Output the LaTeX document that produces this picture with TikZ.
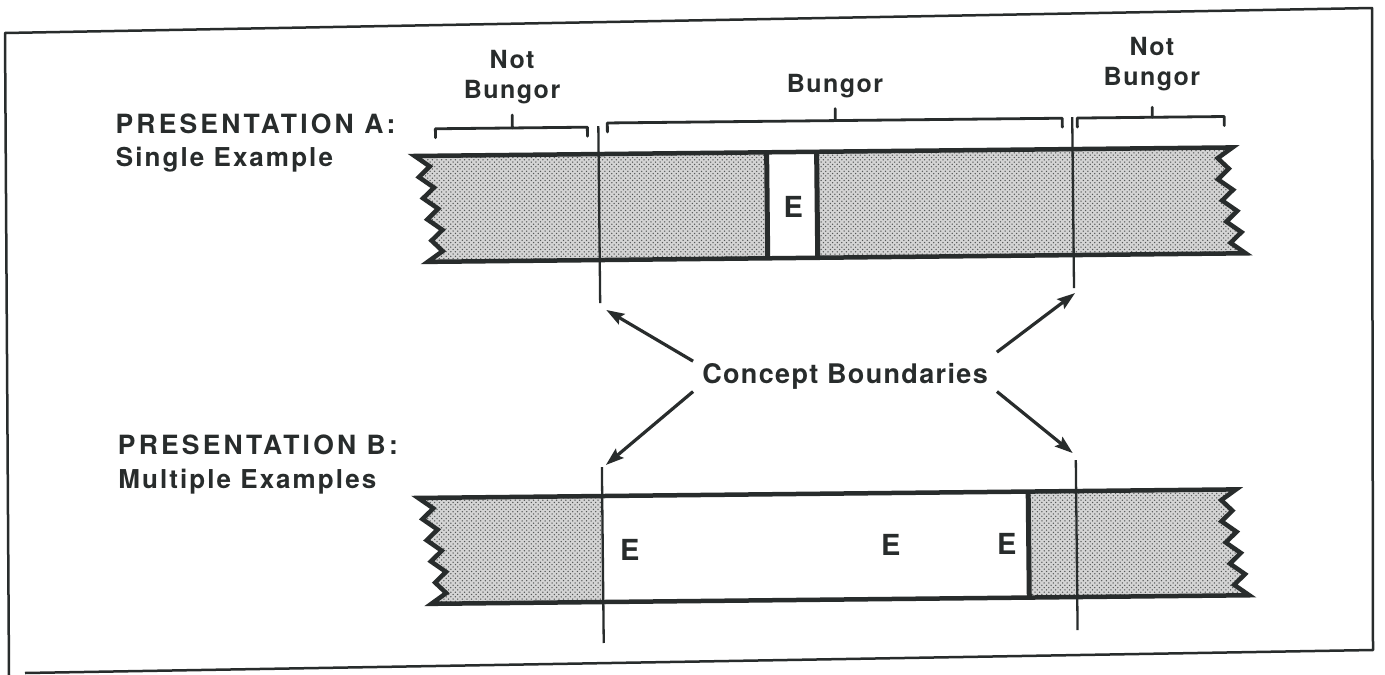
\documentclass[tikz,border=0pt]{standalone}
\usepackage{fontspec}
\setmainfont{TeX Gyre Heros}
\usetikzlibrary{arrows.meta,patterns}

\definecolor{ink}{RGB}{40,44,44}
\definecolor{dotbase}{RGB}{212,212,212}

% staggered halftone dots
\pgfdeclarepatternformonly{halftone}{\pgfqpoint{-1pt}{-1pt}}{\pgfqpoint{5.6pt}{5.6pt}}{\pgfqpoint{4.6pt}{4.6pt}}{%
  \pgfpathcircle{\pgfqpoint{0pt}{0pt}}{0.75pt}%
  \pgfpathcircle{\pgfqpoint{2.3pt}{2.3pt}}{0.75pt}%
  \pgfusepath{fill}}

% outline of a torn band whose top edge is at y = #1 (height 106)
\newcommand\bandpath[1]{(417,#1)
  \foreach \k in {1,...,4}{ -- ++(15,10.6) -- ++(-11,10.6) }
  -- ++(11,10.6) -- ++(-15,10.6)
  -- (1247,#1+106)
  \foreach \k in {1,...,4}{ -- ++(-15,-10.6) -- ++(11,-10.6) }
  -- ++(-11,-10.6) -- ++(15,-10.6) -- cycle}

\begin{document}
\begin{tikzpicture}[x=1pt,y=-1pt,
  every node/.style={text=ink, inner sep=0pt},
  dotfill/.style={fill=dotbase, postaction={pattern=halftone, pattern color=ink!80}},
  band/.style={draw=ink, line width=4.5pt, line join=miter, miter limit=6},
  divider/.style={draw=ink, line width=5pt},
  bound/.style={draw=ink, line width=2.3pt},
  brk/.style={draw=ink, line width=2.8pt, line join=round, line cap=round},
  arr/.style={draw=ink, line width=3.2pt, -{Stealth[length=18pt,width=12pt,inset=3pt]}},
  head/.style={font=\bfseries\fontsize{26}{30}\selectfont\addfontfeature{LetterSpace=8}, align=left},
  headcaps/.style={font=\bfseries\fontsize{26.5}{30}\selectfont\addfontfeature{LetterSpace=12}, align=left},
  side/.style={font=\bfseries\fontsize{25}{30}\selectfont\addfontfeature{LetterSpace=6}, align=center},
  cpt/.style={font=\bfseries\fontsize{27}{30}\selectfont\addfontfeature{LetterSpace=5}},
  ex/.style={font=\bfseries\fontsize{29}{30}\selectfont}
]
\useasboundingbox (0,0) rectangle (1385,675);
\fill[white] (0,0) rectangle (1385,675);

% outer frame
\draw[ink, line width=2.5pt, line join=round] (9,675) -- (5,33) -- (1372,8) -- (1373,650) -- (25,673);

\begin{scope}[rotate around={0.6:(700,380)}]

  % presentation titles
  \node[headcaps, anchor=base west] (titleA) at (118,127) {PRESENTATION A:};
  \node[head, anchor=base west] (subA) at (118,160) {Single Example};
  \node[headcaps, anchor=base west] (titleB) at (117,448) {PRESENTATION B:};
  \node[head, anchor=base west] (subB) at (117,482) {Multiple Examples};

  % band A: a single example inside the concept
  \path[dotfill] \bandpath{153};
  \fill[white] (769,153) rectangle (819,259);
  \draw[band] \bandpath{153};
  \draw[divider] (769,153) -- (769,259);
  \draw[divider] (819,153) -- (819,259);
  \node[ex] (eA) at (795,208) {E};

  % band B: several examples spread across the concept
  \path[dotfill] \bandpath{495};
  \fill[white] (601,495) rectangle (1027,601);
  \draw[band] \bandpath{495};
  \draw[divider] (1027,495) -- (1027,601);
  \node[ex] (eB1) at (628,549) {E};
  \node[ex] (eB2) at (889,547) {E};
  \node[ex] (eB3) at (1005,547) {E};

  % concept boundaries
  \coordinate (lAt) at (601,125);  \coordinate (lAb) at (601,302);
  \coordinate (rAt) at (1075,121); \coordinate (rAb) at (1075,292);
  \coordinate (lBt) at (601,466);  \coordinate (lBb) at (601,642);
  \coordinate (rBt) at (1075,464); \coordinate (rBb) at (1075,634);
  \draw[bound] (lAt) -- (lAb);
  \draw[bound] (rAt) -- (rAb);
  \draw[bound] (lBt) -- (lBb);
  \draw[bound] (rBt) -- (rBb);

  % brackets with their labels
  \draw[brk] (438,135) -- (438,126) -- (590,126) -- (590,135);
  \draw[brk] (515,126) -- (515,113);
  \node[side, anchor=base] (notL) at (515,96.5) {Not\\Bungor};

  \draw[brk] (610,131) -- (610,122) -- (1065,122) -- (1065,131);
  \draw[brk] (838,122) -- (838,110);
  \node[side, anchor=base] (bung) at (838,93.5) {Bungor};

  \draw[brk] (1080,131) -- (1080,122) -- (1227,122) -- (1227,131);
  \draw[brk] (1155,122) -- (1155,112);
  \node[side, anchor=base] (notR) at (1155,90) {Not\\Bungor};

  % label pointing at the four boundary ends
  \node[cpt, anchor=base, inner xsep=9pt, inner ysep=2pt] (cb) at (845,385) {Concept Boundaries};
  \coordinate (hUL) at (607,309);
  \coordinate (hUR) at (1076,297);
  \coordinate (hLL) at (605,464);
  \coordinate (hLR) at (1072,457);
  \draw[arr] (cb.north west) -- (hUL);
  \draw[arr] ([yshift=9pt]cb.north east) -- (hUR);
  \draw[arr] (cb.south west) -- (hLL);
  \draw[arr] (cb.south east) -- (hLR);
\end{scope}
\end{tikzpicture}
\end{document}
